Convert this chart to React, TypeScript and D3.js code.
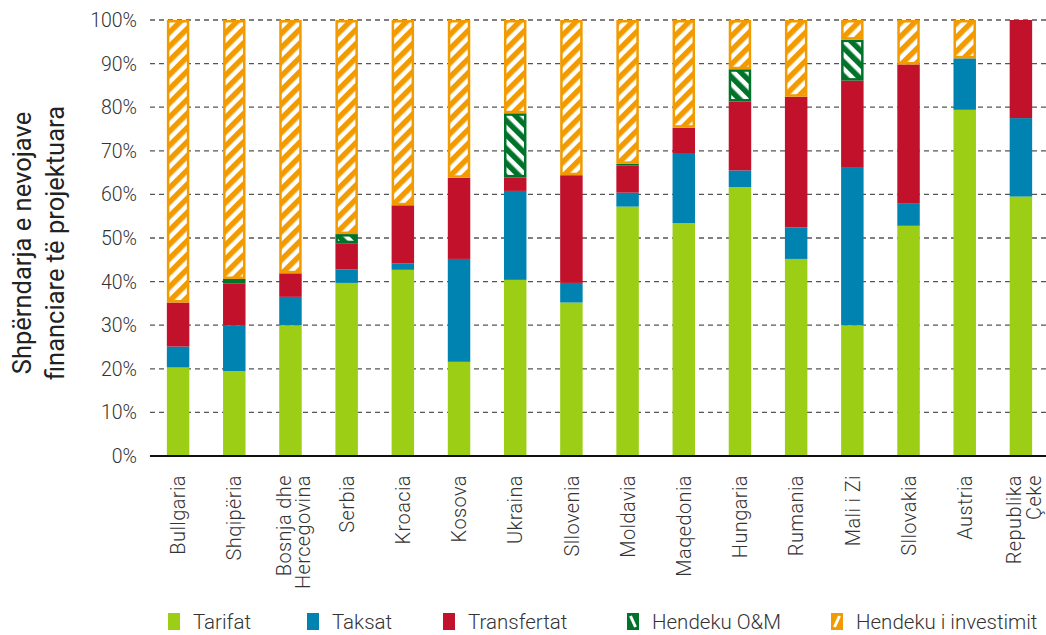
import React from 'react';
import * as d3 from 'd3';

const categories = [
  'Bullgaria', 'Shqipëria', 'Bosnja dhe\nHercegovina', 'Serbia', 'Kroacia', 'Kosova', 'Ukraina',
  'Sllovenia', 'Moldavia', 'Maqedonia', 'Hungaria', 'Rumania', 'Mali i Zi', 'Sllovakia', 'Austria',
  'Republika\nÇeke',
];
const tarifat = [20.3, 19.5, 30.0, 39.7, 42.7, 21.6, 40.4, 35.2, 57.2, 53.4, 61.7, 45.2, 30.0, 52.8, 79.4, 59.5];
const taksat = [4.8, 10.5, 6.5, 3.1, 1.5, 23.6, 20.4, 4.5, 3.2, 15.9, 3.8, 7.2, 36.1, 5.2, 11.8, 18.0];
const transfertat = [10.1, 9.6, 5.4, 6.0, 13.3, 18.6, 3.1, 24.7, 6.2, 6.0, 15.8, 30.0, 20.0, 31.8, 0, 22.5];
const hendekuOM = [0, 1.0, 0, 2.1, 0, 0, 14.7, 0, 0.4, 0, 7.4, 0, 9.4, 0, 0, 0];
const hendekuInv = [64.8, 59.4, 58.1, 49.1, 42.5, 36.2, 21.4, 35.6, 33.0, 24.7, 11.3, 17.6, 4.5, 10.2, 8.8, 0];

const seriesKeys = ['Tarifat', 'Taksat', 'Transfertat', 'Hendeku O&M', 'Hendeku i investimit'];
const seriesValues = [tarifat, taksat, transfertat, hendekuOM, hendekuInv];
const yTicks = [0, 10, 20, 30, 40, 50, 60, 70, 80, 90, 100];
const yTitle = ['Shpërndarja e nevojave', 'financiare të projektuara'];

const COLORS = ['#9dce16', '#0083b0', '#c1112b', '#00732a', '#f29b00'];
const HATCH = [null, null, null, 'hOM', 'hInv'];
const LEGEND_X = [168, 307, 443, 627, 831];

const W = 1046;
const H = 635;
const FONT = 'Roboto, "Noto Sans", sans-serif';

export default function App() {
  const rows = categories.map((c, i) => {
    const r: any = { cat: c };
    seriesKeys.forEach((k, j) => (r[k] = seriesValues[j][i]));
    return r;
  });
  const stacked = d3.stack().keys(seriesKeys)(rows);

  const x = d3.scaleBand().domain(categories).range([150, 1049]).paddingInner(0.6).paddingOuter(0.3);
  const y = d3.scaleLinear().domain([0, 100]).range([456, 20]);
  const bw = x.bandwidth();
  const sw = 2.5;

  return (
    <svg width={W} height={H} style={{ position: 'absolute', left: 0, top: 0, background: '#fff' }}>
      <defs>
        <pattern id="hInv" patternUnits="userSpaceOnUse" width="10" height="10" patternTransform="rotate(45)">
          <rect width="10" height="10" fill="#fff" />
          <rect width="5.5" height="10" fill={COLORS[4]} />
        </pattern>
        <pattern id="hOM" patternUnits="userSpaceOnUse" width="10" height="10" patternTransform="rotate(-45)">
          <rect width="10" height="10" fill="#fff" />
          <rect width="5.5" height="10" fill={COLORS[3]} />
        </pattern>
      </defs>

      {/* gridlines */}
      {yTicks.filter((t) => t > 0).map((t) => (
        <line key={t} x1={150} x2={W} y1={y(t)} y2={y(t)} stroke="#555" strokeWidth={1.3} strokeDasharray="5,4" />
      ))}

      {/* y tick labels */}
      {yTicks.map((t) => (
        <text key={t} x={137} y={y(t)} dy="0.36em" textAnchor="end" fontFamily={FONT} fontWeight={300}
          fontSize={19.5} fill="#333">{t}%</text>
      ))}

      {/* y title */}
      <g transform={`translate(0, ${y(50) + 5}) rotate(-90)`}>
        {yTitle.map((l, i) => (
          <text key={i} x={0} y={31 + i * 33} textAnchor="middle" fontFamily={FONT} fontSize={25.5} fill="#222">{l}</text>
        ))}
      </g>

      {/* bars */}
      {stacked.map((s, si) => (
        <g key={s.key}>
          {s.map((d, i) => {
            const y0 = y(d[1]);
            const h = y(d[0]) - y(d[1]);
            if (h <= 0.01) return null;
            const x0 = x(categories[i]) as number;
            const hatch = HATCH[si];
            if (!hatch || h <= sw * 2) {
              return <rect key={i} x={x0} y={y0} width={bw} height={h} fill={COLORS[si]} />;
            }
            return (
              <rect key={i} x={x0 + sw / 2} y={y0 + sw / 2} width={bw - sw} height={h - sw}
                fill={`url(#${hatch})`} stroke={COLORS[si]} strokeWidth={sw} />
            );
          })}
        </g>
      ))}

      {/* x axis */}
      <line x1={150} x2={W} y1={y(0)} y2={y(0)} stroke="#111" strokeWidth={2} />

      {/* x labels */}
      {categories.map((c) => {
        const lines = c.split('\n');
        const cx = (x(c) as number) + bw / 2 + (lines.length > 1 ? 3 : 0);
        return (
          <g key={c} transform={`translate(${cx}, 475) rotate(-90)`}>
            {lines.map((l, i) => (
              <text key={i} x={0} y={(i - (lines.length - 1) / 2) * 19.5} dy="0.36em" textAnchor="end"
                fontFamily={FONT} fontWeight={300} fontSize={20} letterSpacing={0.4} fill="#333">{l}</text>
            ))}
          </g>
        );
      })}

      {/* legend */}
      {seriesKeys.map((k, i) => {
        const lx = LEGEND_X[i];
        const ly = 613;
        const w = 12;
        const h = 17;
        return (
          <g key={k}>
            <rect x={lx} y={ly} width={w} height={h} fill={COLORS[i]} />
            {i === 3 && (
              <line x1={lx + 3.5} y1={ly + 3} x2={lx + w - 3.5} y2={ly + h - 3} stroke="#fff" strokeWidth={3} />
            )}
            {i === 4 && (
              <line x1={lx + 3.5} y1={ly + h - 3} x2={lx + w - 3.5} y2={ly + 3} stroke="#fff" strokeWidth={3} />
            )}
            <text x={lx + w + 13} y={ly + h / 2} dy="0.36em" fontFamily={FONT} fontWeight={300} fontSize={20.5}
              fill="#333">{k}</text>
          </g>
        );
      })}
    </svg>
  );
}
